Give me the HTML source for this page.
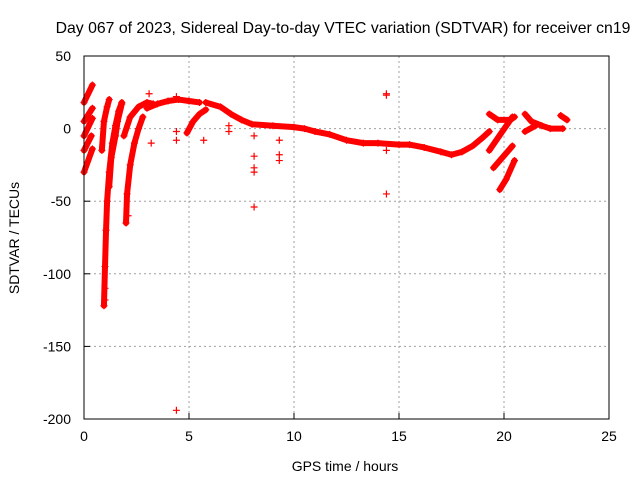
<!DOCTYPE html>
<html><head><meta charset="utf-8"><style>
body{margin:0;background:#fff;}
svg text{font-family:"Liberation Sans",sans-serif;font-size:14px;fill:#000;}
</style></head><body>
<svg id="chart" width="640" height="480">
<text x="343" y="33" text-anchor="middle" style="font-size:15.8px">Day 067 of 2023, Sidereal Day-to-day VTEC variation (SDTVAR) for receiver cn19</text>
<text x="345" y="471" text-anchor="middle">GPS time / hours</text>
<text transform="translate(19,238) rotate(-90)" text-anchor="middle">SDTVAR / TECUs</text>
<g id="grid"></g><g id="marks"></g>
<rect x="84" y="56" width="525" height="363" fill="none" stroke="#000" stroke-width="1"/>
</svg>
<script>
const xTicks=[0,5,10,15,20,25];
const yTicks=[50,0,-50,-100,-150,-200];
const segments=[
[[0,18],[0.4,30]],
[[0,5],[0.4,14]],
[[0,-5],[0.4,7]],
[[0,-15],[0.35,-5]],
[[0,-30],[0.4,-14]],
[[0.95,-122],[1.0,-95],[1.05,-70],[1.1,-50],[1.2,-30],[1.35,-10],[1.5,2],[1.65,12],[1.8,18]],
[[0.85,-15],[0.95,5],[1.1,15],[1.2,20]],
[[1.2,-40],[1.3,-20],[1.5,-5],[1.6,5],[1.8,17]],
[[2.0,-65],[2.05,-45],[2.2,-25],[2.4,-10],[2.6,0],[2.8,8]],
[[1.9,-5],[2.2,8],[2.6,15],[3.0,18],[3.3,17]],
[[3.0,14],[3.5,17],[4.0,19],[4.5,20],[5.0,19],[5.5,18]],
[[4.9,-3],[5.2,5],[5.5,10],[5.8,13]],
[[5.8,18],[6.5,15],[7.0,10],[7.5,6],[8,3],[9,2],[10,1],[10.5,0],[11,-2],[11.7,-4],[12.5,-8],[13.3,-10],[14,-10],[15,-11],[15.5,-11],[16.2,-13],[17,-16],[17.5,-18],[18,-16],[18.5,-12],[19,-6],[19.3,-2]],
[[19.3,10],[19.7,6],[20.3,6],[20.5,8]],
[[19.3,-15],[20.4,8]],
[[19.5,-27],[20.4,-12]],
[[19.8,-42],[20.1,-35],[20.5,-22]],
[[21,10],[21.3,5],[21.8,2],[22.2,0],[22.8,0]],
[[21,-2],[21.5,2]],
[[22.7,9],[23,6]]
];
const outliers=[[3.1,24],[3.2,-10],[4.4,-194],[4.4,-2],[4.4,-8],[4.4,22],[5.7,-8],[6.9,-2],[6.9,2],[8.1,-5],[8.1,-19],[8.1,-27],[8.1,-30],[8.1,-54],[9.3,-8],[9.3,-18],[9.3,-22],[14.4,23],[14.4,24],[14.4,-15],[14.4,-45],[1.0,-118],[1.0,-110],[2.1,-60]];
const X=h=>84+h*21, Y=v=>128.6-v*1.452;
const NS='http://www.w3.org/2000/svg';
const grid=document.getElementById('grid'), marks=document.getElementById('marks');
function mk(tag,attrs,parent){const e=document.createElementNS(NS,tag);for(const k in attrs)e.setAttribute(k,attrs[k]);parent.appendChild(e);return e;}
xTicks.forEach(t=>{
 if(t>0&&t<25){const l=mk('line',{x1:X(t),x2:X(t),y1:56,y2:419,stroke:'#a0a0a0','stroke-dasharray':'2,3'},grid);
 
 }
 const tk=mk('line',{x1:X(t),x2:X(t),y1:419,y2:413,stroke:'#000'},grid);
 
 
 const tx=mk('text',{x:X(t),y:441,'text-anchor':'middle'},grid);tx.textContent=t;
 
 
});
yTicks.forEach(t=>{
 if(t<50&&t>-200){const l=mk('line',{x1:84,x2:609,y1:Y(t),y2:Y(t),stroke:'#a0a0a0','stroke-dasharray':'2,3'},grid);
 
 }
 const tk=mk('line',{x1:84,x2:90,y1:Y(t),y2:Y(t),stroke:'#000'},grid);
 
 
 const tx=mk('text',{x:71,y:Y(t)+5,'text-anchor':'end'},grid);tx.textContent=t;
 
 
});
function plus(h,v){
 const p=mk('path',{d:`M${X(h)-3.5},${Y(v)}h7M${X(h)},${Y(v)-3.5}v7`,stroke:'#f00','stroke-width':1.2},marks);
 
 
}
segments.forEach(s=>{
 const pl=mk('polyline',{points:s.map(p=>X(p[0])+','+Y(p[1])).join(' '),fill:'none',stroke:'#f00','stroke-width':6,'stroke-linecap':'round','stroke-linejoin':'round'},marks);
 
 
 s.forEach(p=>plus(p[0],p[1]));
});
outliers.forEach(p=>plus(p[0],p[1]));
</script>
</body></html>
